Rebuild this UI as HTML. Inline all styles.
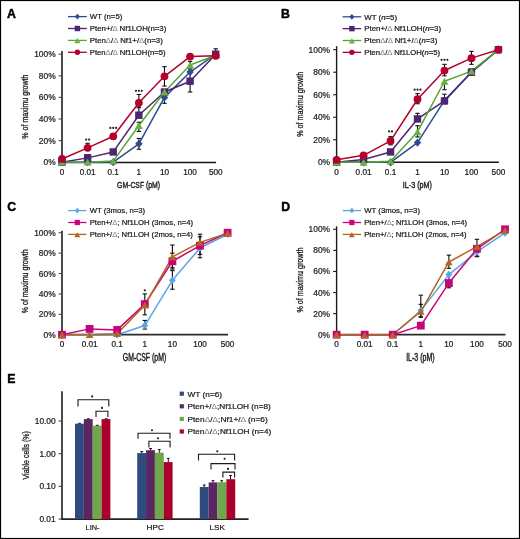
<!DOCTYPE html><html><head><meta charset="utf-8"><style>html,body{margin:0;padding:0;background:#fff;}svg{display:block;filter:blur(0.3px);} text{font-family:"Liberation Sans",sans-serif;}</style></head><body>
<svg width="520" height="539" viewBox="0 0 520 539">
<rect x="0" y="0" width="520" height="539" fill="#fff"/>
<text x="7.00" y="17.60" font-size="12.3" text-anchor="start" fill="#000" font-weight="bold" stroke="#000" stroke-width="0.45">A</text>
<text x="281.10" y="17.90" font-size="12.3" text-anchor="start" fill="#000" font-weight="bold" stroke="#000" stroke-width="0.45">B</text>
<text x="7.20" y="211.00" font-size="12.3" text-anchor="start" fill="#000" font-weight="bold" stroke="#000" stroke-width="0.45">C</text>
<text x="281.20" y="211.00" font-size="12.3" text-anchor="start" fill="#000" font-weight="bold" stroke="#000" stroke-width="0.45">D</text>
<text x="7.20" y="383.30" font-size="12.3" text-anchor="start" fill="#000" font-weight="bold" stroke="#000" stroke-width="0.45">E</text>
<line x1="62.00" y1="51.00" x2="62.00" y2="162.80" stroke="#4a4a4a" stroke-width="2.0" />
<line x1="61.20" y1="162.50" x2="216.12" y2="162.50" stroke="#151515" stroke-width="1.5" />
<line x1="58.60" y1="162.20" x2="62.00" y2="162.20" stroke="#4a4a4a" stroke-width="1.1" />
<text x="55.60" y="165.20" font-size="8.4" text-anchor="end" fill="#1a1a1a" stroke="#1a1a1a" stroke-width="0.22" >0%</text>
<line x1="58.60" y1="140.60" x2="62.00" y2="140.60" stroke="#4a4a4a" stroke-width="1.1" />
<text x="55.60" y="143.60" font-size="8.4" text-anchor="end" fill="#1a1a1a" stroke="#1a1a1a" stroke-width="0.22" >20%</text>
<line x1="58.60" y1="119.00" x2="62.00" y2="119.00" stroke="#4a4a4a" stroke-width="1.1" />
<text x="55.60" y="122.00" font-size="8.4" text-anchor="end" fill="#1a1a1a" stroke="#1a1a1a" stroke-width="0.22" >40%</text>
<line x1="58.60" y1="97.40" x2="62.00" y2="97.40" stroke="#4a4a4a" stroke-width="1.1" />
<text x="55.60" y="100.40" font-size="8.4" text-anchor="end" fill="#1a1a1a" stroke="#1a1a1a" stroke-width="0.22" >60%</text>
<line x1="58.60" y1="75.80" x2="62.00" y2="75.80" stroke="#4a4a4a" stroke-width="1.1" />
<text x="55.60" y="78.80" font-size="8.4" text-anchor="end" fill="#1a1a1a" stroke="#1a1a1a" stroke-width="0.22" >80%</text>
<line x1="58.60" y1="54.20" x2="62.00" y2="54.20" stroke="#4a4a4a" stroke-width="1.1" />
<text x="55.60" y="57.20" font-size="8.4" text-anchor="end" fill="#1a1a1a" stroke="#1a1a1a" stroke-width="0.22" >100%</text>
<text x="62.00" y="174.60" font-size="8.2" text-anchor="middle" fill="#1a1a1a" stroke="#1a1a1a" stroke-width="0.22" >0</text>
<text x="87.62" y="174.60" font-size="8.2" text-anchor="middle" fill="#1a1a1a" stroke="#1a1a1a" stroke-width="0.22" >0.01</text>
<text x="113.24" y="174.60" font-size="8.2" text-anchor="middle" fill="#1a1a1a" stroke="#1a1a1a" stroke-width="0.22" >0.1</text>
<text x="138.86" y="174.60" font-size="8.2" text-anchor="middle" fill="#1a1a1a" stroke="#1a1a1a" stroke-width="0.22" >1</text>
<text x="164.48" y="174.60" font-size="8.2" text-anchor="middle" fill="#1a1a1a" stroke="#1a1a1a" stroke-width="0.22" >10</text>
<text x="190.10" y="174.60" font-size="8.2" text-anchor="middle" fill="#1a1a1a" stroke="#1a1a1a" stroke-width="0.22" >100</text>
<text x="215.72" y="174.60" font-size="8.2" text-anchor="middle" fill="#1a1a1a" stroke="#1a1a1a" stroke-width="0.22" >500</text>
<text x="138.60" y="187.90" font-size="9.9" text-anchor="middle" fill="#1a1a1a" textLength="43.00" lengthAdjust="spacingAndGlyphs" stroke="#1a1a1a" stroke-width="0.42">GM-CSF (pM)</text>
<text x="28.10" y="106.60" font-size="9.0" text-anchor="middle" fill="#1a1a1a" textLength="64.20" lengthAdjust="spacingAndGlyphs" transform="rotate(-90 28.10 106.60)" stroke="#1a1a1a" stroke-width="0.3">% of maximu growth</text>
<polyline points="62.00,162.20 87.62,162.20 113.24,162.20 138.86,143.84 164.48,97.40 190.10,72.02 215.72,54.20" fill="none" stroke="#2b4c8e" stroke-width="1.5" stroke-linejoin="round"/>
<polyline points="62.00,162.20 87.62,157.88 113.24,151.94 138.86,115.22 164.48,92.00 190.10,81.20 215.72,54.20" fill="none" stroke="#4e2572" stroke-width="1.5" stroke-linejoin="round"/>
<polyline points="62.00,162.20 87.62,162.20 113.24,161.12 138.86,125.48 164.48,92.00 190.10,65.00 215.72,55.28" fill="none" stroke="#58a632" stroke-width="1.5" stroke-linejoin="round"/>
<polyline points="62.00,158.96 87.62,147.84 113.24,136.28 138.86,102.80 164.48,76.34 190.10,56.58 215.72,55.82" fill="none" stroke="#b3002c" stroke-width="1.5" stroke-linejoin="round"/>
<line x1="138.86" y1="149.24" x2="138.86" y2="138.44" stroke="#0a0a0a" stroke-width="1.1" />
<line x1="136.66" y1="138.44" x2="141.06" y2="138.44" stroke="#111" stroke-width="1.1" />
<line x1="136.66" y1="149.24" x2="141.06" y2="149.24" stroke="#111" stroke-width="1.1" />
<line x1="164.48" y1="103.34" x2="164.48" y2="97.40" stroke="#0a0a0a" stroke-width="1.1" />
<line x1="162.28" y1="103.34" x2="166.68" y2="103.34" stroke="#111" stroke-width="1.1" />
<line x1="87.62" y1="157.88" x2="87.62" y2="154.64" stroke="#0a0a0a" stroke-width="1.1" />
<line x1="85.42" y1="154.64" x2="89.82" y2="154.64" stroke="#111" stroke-width="1.1" />
<line x1="138.86" y1="115.22" x2="138.86" y2="107.66" stroke="#0a0a0a" stroke-width="1.1" />
<line x1="136.66" y1="107.66" x2="141.06" y2="107.66" stroke="#111" stroke-width="1.1" />
<line x1="190.10" y1="92.00" x2="190.10" y2="70.40" stroke="#0a0a0a" stroke-width="1.1" />
<line x1="187.90" y1="70.40" x2="192.30" y2="70.40" stroke="#111" stroke-width="1.1" />
<line x1="187.90" y1="92.00" x2="192.30" y2="92.00" stroke="#111" stroke-width="1.1" />
<line x1="138.86" y1="131.42" x2="138.86" y2="122.24" stroke="#0a0a0a" stroke-width="1.1" />
<line x1="136.66" y1="122.24" x2="141.06" y2="122.24" stroke="#111" stroke-width="1.1" />
<line x1="136.66" y1="131.42" x2="141.06" y2="131.42" stroke="#111" stroke-width="1.1" />
<line x1="190.10" y1="68.78" x2="190.10" y2="61.44" stroke="#0a0a0a" stroke-width="1.1" />
<line x1="187.90" y1="61.44" x2="192.30" y2="61.44" stroke="#111" stroke-width="1.1" />
<line x1="187.90" y1="68.78" x2="192.30" y2="68.78" stroke="#111" stroke-width="1.1" />
<line x1="87.62" y1="147.84" x2="87.62" y2="143.30" stroke="#0a0a0a" stroke-width="1.1" />
<line x1="85.42" y1="143.30" x2="89.82" y2="143.30" stroke="#111" stroke-width="1.1" />
<line x1="138.86" y1="107.12" x2="138.86" y2="94.48" stroke="#0a0a0a" stroke-width="1.1" />
<line x1="136.66" y1="94.48" x2="141.06" y2="94.48" stroke="#111" stroke-width="1.1" />
<line x1="136.66" y1="107.12" x2="141.06" y2="107.12" stroke="#111" stroke-width="1.1" />
<line x1="164.48" y1="86.06" x2="164.48" y2="66.62" stroke="#0a0a0a" stroke-width="1.1" />
<line x1="162.28" y1="66.62" x2="166.68" y2="66.62" stroke="#111" stroke-width="1.1" />
<line x1="162.28" y1="86.06" x2="166.68" y2="86.06" stroke="#111" stroke-width="1.1" />
<line x1="215.72" y1="55.82" x2="215.72" y2="48.80" stroke="#0a0a0a" stroke-width="1.1" />
<line x1="213.52" y1="48.80" x2="217.92" y2="48.80" stroke="#111" stroke-width="1.1" />
<path d="M62.00 158.10 L65.70 162.20 L62.00 166.29 L58.30 162.20Z" fill="#2b4c8e"/>
<path d="M87.62 158.10 L91.33 162.20 L87.62 166.29 L83.92 162.20Z" fill="#2b4c8e"/>
<path d="M113.24 158.10 L116.95 162.20 L113.24 166.29 L109.54 162.20Z" fill="#2b4c8e"/>
<path d="M138.86 139.74 L142.57 143.84 L138.86 147.93 L135.16 143.84Z" fill="#2b4c8e"/>
<path d="M164.48 93.30 L168.19 97.40 L164.48 101.49 L160.78 97.40Z" fill="#2b4c8e"/>
<path d="M190.10 67.93 L193.81 72.02 L190.10 76.12 L186.39 72.02Z" fill="#2b4c8e"/>
<path d="M215.72 50.11 L219.43 54.20 L215.72 58.30 L212.01 54.20Z" fill="#2b4c8e"/>
<rect x="58.30" y="158.50" width="7.40" height="7.40" fill="#4e2572"/>
<rect x="83.92" y="154.18" width="7.40" height="7.40" fill="#4e2572"/>
<rect x="109.54" y="148.24" width="7.40" height="7.40" fill="#4e2572"/>
<rect x="135.16" y="111.52" width="7.40" height="7.40" fill="#4e2572"/>
<rect x="160.78" y="88.30" width="7.40" height="7.40" fill="#4e2572"/>
<rect x="186.40" y="77.50" width="7.40" height="7.40" fill="#4e2572"/>
<rect x="212.02" y="50.50" width="7.40" height="7.40" fill="#4e2572"/>
<path d="M62.00 158.80 L66.00 165.60 L58.00 165.60Z" fill="#6ab23f"/>
<path d="M87.62 158.80 L91.62 165.60 L83.62 165.60Z" fill="#6ab23f"/>
<path d="M113.24 157.72 L117.24 164.52 L109.24 164.52Z" fill="#6ab23f"/>
<path d="M138.86 122.08 L142.86 128.88 L134.86 128.88Z" fill="#6ab23f"/>
<path d="M164.48 88.60 L168.48 95.40 L160.48 95.40Z" fill="#6ab23f"/>
<path d="M190.10 61.60 L194.10 68.40 L186.10 68.40Z" fill="#6ab23f"/>
<path d="M215.72 51.88 L219.72 58.68 L211.72 58.68Z" fill="#6ab23f"/>
<circle cx="62.00" cy="158.96" r="3.90" fill="#b3002c"/>
<circle cx="87.62" cy="147.84" r="3.90" fill="#b3002c"/>
<circle cx="113.24" cy="136.28" r="3.90" fill="#b3002c"/>
<circle cx="138.86" cy="102.80" r="3.90" fill="#b3002c"/>
<circle cx="164.48" cy="76.34" r="3.90" fill="#b3002c"/>
<circle cx="190.10" cy="56.58" r="3.90" fill="#b3002c"/>
<circle cx="215.72" cy="55.82" r="3.90" fill="#b3002c"/>
<circle cx="86.17" cy="139.60" r="1.1" fill="#222"/>
<circle cx="89.07" cy="139.60" r="1.1" fill="#222"/>
<circle cx="110.34" cy="127.90" r="1.1" fill="#222"/>
<circle cx="113.24" cy="127.90" r="1.1" fill="#222"/>
<circle cx="116.14" cy="127.90" r="1.1" fill="#222"/>
<circle cx="135.96" cy="90.80" r="1.1" fill="#222"/>
<circle cx="138.86" cy="90.80" r="1.1" fill="#222"/>
<circle cx="141.76" cy="90.80" r="1.1" fill="#222"/>
<line x1="68.00" y1="16.60" x2="86.80" y2="16.60" stroke="#2b4c8e" stroke-width="1.3" />
<path d="M77.40 13.77 L79.97 16.60 L77.40 19.44 L74.84 16.60Z" fill="#2b4c8e"/>
<text x="89.80" y="19.30" font-size="7.6" text-anchor="start" fill="#1a1a1a" textLength="32.50" lengthAdjust="spacingAndGlyphs" stroke="#1a1a1a" stroke-width="0.22" >WT (n=5)</text>
<line x1="68.00" y1="28.50" x2="86.80" y2="28.50" stroke="#4e2572" stroke-width="1.3" />
<rect x="74.70" y="25.80" width="5.40" height="5.40" fill="#4e2572"/>
<text x="89.80" y="31.20" font-size="7.6" text-anchor="start" fill="#1a1a1a" textLength="76.50" lengthAdjust="spacingAndGlyphs" stroke="#1a1a1a" stroke-width="0.22" >Pten+/<tspan fill="#7a7a7a" stroke="none">&#916;</tspan> Nf1LOH(n=3)</text>
<line x1="68.00" y1="40.40" x2="86.80" y2="40.40" stroke="#58a632" stroke-width="1.3" />
<path d="M77.40 38.06 L80.51 43.34 L74.30 43.34Z" fill="#6ab23f"/>
<text x="89.80" y="43.10" font-size="7.6" text-anchor="start" fill="#1a1a1a" textLength="73.00" lengthAdjust="spacingAndGlyphs" stroke="#1a1a1a" stroke-width="0.22" >Pten<tspan fill="#7a7a7a" stroke="none">&#916;</tspan>/<tspan fill="#7a7a7a" stroke="none">&#916;</tspan> Nf1+/<tspan fill="#7a7a7a" stroke="none">&#916;</tspan>(n=3)</text>
<line x1="68.00" y1="52.30" x2="86.80" y2="52.30" stroke="#b3002c" stroke-width="1.3" />
<circle cx="77.40" cy="52.30" r="2.70" fill="#b3002c"/>
<text x="89.80" y="55.00" font-size="7.6" text-anchor="start" fill="#1a1a1a" textLength="75.70" lengthAdjust="spacingAndGlyphs" stroke="#1a1a1a" stroke-width="0.22" >Pten<tspan fill="#7a7a7a" stroke="none">&#916;</tspan>/<tspan fill="#7a7a7a" stroke="none">&#916;</tspan> Nf1LOH(n=5)</text>
<line x1="336.60" y1="46.20" x2="336.60" y2="162.90" stroke="#1a1a1a" stroke-width="1.4" />
<line x1="335.80" y1="162.30" x2="498.82" y2="162.30" stroke="#151515" stroke-width="1.5" />
<line x1="333.20" y1="162.30" x2="336.60" y2="162.30" stroke="#1a1a1a" stroke-width="1.1" />
<text x="330.00" y="165.30" font-size="8.4" text-anchor="end" fill="#1a1a1a" stroke="#1a1a1a" stroke-width="0.22" >0%</text>
<line x1="333.20" y1="139.78" x2="336.60" y2="139.78" stroke="#1a1a1a" stroke-width="1.1" />
<text x="330.00" y="142.78" font-size="8.4" text-anchor="end" fill="#1a1a1a" stroke="#1a1a1a" stroke-width="0.22" >20%</text>
<line x1="333.20" y1="117.26" x2="336.60" y2="117.26" stroke="#1a1a1a" stroke-width="1.1" />
<text x="330.00" y="120.26" font-size="8.4" text-anchor="end" fill="#1a1a1a" stroke="#1a1a1a" stroke-width="0.22" >40%</text>
<line x1="333.20" y1="94.74" x2="336.60" y2="94.74" stroke="#1a1a1a" stroke-width="1.1" />
<text x="330.00" y="97.74" font-size="8.4" text-anchor="end" fill="#1a1a1a" stroke="#1a1a1a" stroke-width="0.22" >60%</text>
<line x1="333.20" y1="72.22" x2="336.60" y2="72.22" stroke="#1a1a1a" stroke-width="1.1" />
<text x="330.00" y="75.22" font-size="8.4" text-anchor="end" fill="#1a1a1a" stroke="#1a1a1a" stroke-width="0.22" >80%</text>
<line x1="333.20" y1="49.70" x2="336.60" y2="49.70" stroke="#1a1a1a" stroke-width="1.1" />
<text x="330.00" y="52.70" font-size="8.4" text-anchor="end" fill="#1a1a1a" stroke="#1a1a1a" stroke-width="0.22" >100%</text>
<text x="336.60" y="174.60" font-size="8.2" text-anchor="middle" fill="#1a1a1a" stroke="#1a1a1a" stroke-width="0.22" >0</text>
<text x="363.57" y="174.60" font-size="8.2" text-anchor="middle" fill="#1a1a1a" stroke="#1a1a1a" stroke-width="0.22" >0.01</text>
<text x="390.54" y="174.60" font-size="8.2" text-anchor="middle" fill="#1a1a1a" stroke="#1a1a1a" stroke-width="0.22" >0.1</text>
<text x="417.51" y="174.60" font-size="8.2" text-anchor="middle" fill="#1a1a1a" stroke="#1a1a1a" stroke-width="0.22" >1</text>
<text x="444.48" y="174.60" font-size="8.2" text-anchor="middle" fill="#1a1a1a" stroke="#1a1a1a" stroke-width="0.22" >10</text>
<text x="471.45" y="174.60" font-size="8.2" text-anchor="middle" fill="#1a1a1a" stroke="#1a1a1a" stroke-width="0.22" >100</text>
<text x="498.42" y="174.60" font-size="8.2" text-anchor="middle" fill="#1a1a1a" stroke="#1a1a1a" stroke-width="0.22" >500</text>
<text x="417.40" y="187.90" font-size="9.9" text-anchor="middle" fill="#1a1a1a" textLength="29.10" lengthAdjust="spacingAndGlyphs" stroke="#1a1a1a" stroke-width="0.42">IL-3 (pM)</text>
<text x="302.60" y="104.30" font-size="9.0" text-anchor="middle" fill="#1a1a1a" textLength="65.00" lengthAdjust="spacingAndGlyphs" transform="rotate(-90 302.60 104.30)" stroke="#1a1a1a" stroke-width="0.3">% of maximu growth</text>
<polyline points="336.60,162.30 363.57,162.30 390.54,162.30 417.51,142.59 444.48,100.37 471.45,72.22 498.42,49.70" fill="none" stroke="#2b4c8e" stroke-width="1.5" stroke-linejoin="round"/>
<polyline points="336.60,162.30 363.57,159.49 390.54,151.94 417.51,118.95 444.48,100.93 471.45,72.22 498.42,49.70" fill="none" stroke="#4e2572" stroke-width="1.5" stroke-linejoin="round"/>
<polyline points="336.60,162.30 363.57,162.30 390.54,161.17 417.51,131.90 444.48,81.23 471.45,71.09 498.42,49.70" fill="none" stroke="#58a632" stroke-width="1.5" stroke-linejoin="round"/>
<polyline points="336.60,159.82 363.57,155.32 390.54,140.91 417.51,99.24 444.48,70.53 471.45,58.15 498.42,49.70" fill="none" stroke="#b3002c" stroke-width="1.5" stroke-linejoin="round"/>
<line x1="444.48" y1="103.75" x2="444.48" y2="100.37" stroke="#0a0a0a" stroke-width="1.1" />
<line x1="442.28" y1="103.75" x2="446.68" y2="103.75" stroke="#111" stroke-width="1.1" />
<line x1="417.51" y1="118.95" x2="417.51" y2="113.32" stroke="#0a0a0a" stroke-width="1.1" />
<line x1="415.31" y1="113.32" x2="419.71" y2="113.32" stroke="#111" stroke-width="1.1" />
<line x1="444.48" y1="100.93" x2="444.48" y2="94.18" stroke="#0a0a0a" stroke-width="1.1" />
<line x1="442.28" y1="94.18" x2="446.68" y2="94.18" stroke="#111" stroke-width="1.1" />
<line x1="471.45" y1="72.22" x2="471.45" y2="68.84" stroke="#0a0a0a" stroke-width="1.1" />
<line x1="469.25" y1="68.84" x2="473.65" y2="68.84" stroke="#111" stroke-width="1.1" />
<line x1="417.51" y1="136.97" x2="417.51" y2="125.71" stroke="#0a0a0a" stroke-width="1.1" />
<line x1="415.31" y1="125.71" x2="419.71" y2="125.71" stroke="#111" stroke-width="1.1" />
<line x1="415.31" y1="136.97" x2="419.71" y2="136.97" stroke="#111" stroke-width="1.1" />
<line x1="444.48" y1="89.67" x2="444.48" y2="81.23" stroke="#0a0a0a" stroke-width="1.1" />
<line x1="442.28" y1="89.67" x2="446.68" y2="89.67" stroke="#111" stroke-width="1.1" />
<line x1="390.54" y1="144.85" x2="390.54" y2="136.63" stroke="#0a0a0a" stroke-width="1.1" />
<line x1="388.34" y1="136.63" x2="392.74" y2="136.63" stroke="#111" stroke-width="1.1" />
<line x1="388.34" y1="144.85" x2="392.74" y2="144.85" stroke="#111" stroke-width="1.1" />
<line x1="417.51" y1="103.75" x2="417.51" y2="93.61" stroke="#0a0a0a" stroke-width="1.1" />
<line x1="415.31" y1="93.61" x2="419.71" y2="93.61" stroke="#111" stroke-width="1.1" />
<line x1="415.31" y1="103.75" x2="419.71" y2="103.75" stroke="#111" stroke-width="1.1" />
<line x1="444.48" y1="75.82" x2="444.48" y2="64.34" stroke="#0a0a0a" stroke-width="1.1" />
<line x1="442.28" y1="64.34" x2="446.68" y2="64.34" stroke="#111" stroke-width="1.1" />
<line x1="442.28" y1="75.82" x2="446.68" y2="75.82" stroke="#111" stroke-width="1.1" />
<line x1="471.45" y1="64.34" x2="471.45" y2="51.39" stroke="#0a0a0a" stroke-width="1.1" />
<line x1="469.25" y1="51.39" x2="473.65" y2="51.39" stroke="#111" stroke-width="1.1" />
<line x1="469.25" y1="64.34" x2="473.65" y2="64.34" stroke="#111" stroke-width="1.1" />
<path d="M336.60 158.21 L340.31 162.30 L336.60 166.40 L332.90 162.30Z" fill="#2b4c8e"/>
<path d="M363.57 158.21 L367.28 162.30 L363.57 166.40 L359.87 162.30Z" fill="#2b4c8e"/>
<path d="M390.54 158.21 L394.25 162.30 L390.54 166.40 L386.84 162.30Z" fill="#2b4c8e"/>
<path d="M417.51 138.50 L421.21 142.59 L417.51 146.69 L413.81 142.59Z" fill="#2b4c8e"/>
<path d="M444.48 96.28 L448.19 100.37 L444.48 104.47 L440.78 100.37Z" fill="#2b4c8e"/>
<path d="M471.45 68.13 L475.16 72.22 L471.45 76.32 L467.75 72.22Z" fill="#2b4c8e"/>
<path d="M498.42 45.61 L502.12 49.70 L498.42 53.80 L494.72 49.70Z" fill="#2b4c8e"/>
<rect x="332.90" y="158.60" width="7.40" height="7.40" fill="#4e2572"/>
<rect x="359.87" y="155.79" width="7.40" height="7.40" fill="#4e2572"/>
<rect x="386.84" y="148.24" width="7.40" height="7.40" fill="#4e2572"/>
<rect x="413.81" y="115.25" width="7.40" height="7.40" fill="#4e2572"/>
<rect x="440.78" y="97.23" width="7.40" height="7.40" fill="#4e2572"/>
<rect x="467.75" y="68.52" width="7.40" height="7.40" fill="#4e2572"/>
<rect x="494.72" y="46.00" width="7.40" height="7.40" fill="#4e2572"/>
<path d="M336.60 158.90 L340.60 165.70 L332.60 165.70Z" fill="#6ab23f"/>
<path d="M363.57 158.90 L367.57 165.70 L359.57 165.70Z" fill="#6ab23f"/>
<path d="M390.54 157.77 L394.54 164.57 L386.54 164.57Z" fill="#6ab23f"/>
<path d="M417.51 128.50 L421.51 135.30 L413.51 135.30Z" fill="#6ab23f"/>
<path d="M444.48 77.83 L448.48 84.63 L440.48 84.63Z" fill="#6ab23f"/>
<path d="M471.45 67.69 L475.45 74.49 L467.45 74.49Z" fill="#6ab23f"/>
<path d="M498.42 46.30 L502.42 53.10 L494.42 53.10Z" fill="#6ab23f"/>
<circle cx="336.60" cy="159.82" r="3.90" fill="#b3002c"/>
<circle cx="363.57" cy="155.32" r="3.90" fill="#b3002c"/>
<circle cx="390.54" cy="140.91" r="3.90" fill="#b3002c"/>
<circle cx="417.51" cy="99.24" r="3.90" fill="#b3002c"/>
<circle cx="444.48" cy="70.53" r="3.90" fill="#b3002c"/>
<circle cx="471.45" cy="58.15" r="3.90" fill="#b3002c"/>
<circle cx="498.42" cy="49.70" r="3.90" fill="#b3002c"/>
<circle cx="389.09" cy="131.40" r="1.1" fill="#222"/>
<circle cx="391.99" cy="131.40" r="1.1" fill="#222"/>
<circle cx="414.61" cy="89.70" r="1.1" fill="#222"/>
<circle cx="417.51" cy="89.70" r="1.1" fill="#222"/>
<circle cx="420.41" cy="89.70" r="1.1" fill="#222"/>
<circle cx="441.58" cy="59.80" r="1.1" fill="#222"/>
<circle cx="444.48" cy="59.80" r="1.1" fill="#222"/>
<circle cx="447.38" cy="59.80" r="1.1" fill="#222"/>
<line x1="342.60" y1="16.80" x2="361.20" y2="16.80" stroke="#2b4c8e" stroke-width="1.3" />
<path d="M351.90 13.96 L354.46 16.80 L351.90 19.64 L349.33 16.80Z" fill="#2b4c8e"/>
<text x="364.30" y="19.50" font-size="7.6" text-anchor="start" fill="#1a1a1a" textLength="32.80" lengthAdjust="spacingAndGlyphs" stroke="#1a1a1a" stroke-width="0.22" >WT (<tspan font-style="italic">n</tspan>=5)</text>
<line x1="342.60" y1="28.65" x2="361.20" y2="28.65" stroke="#4e2572" stroke-width="1.3" />
<rect x="349.20" y="25.95" width="5.40" height="5.40" fill="#4e2572"/>
<text x="364.30" y="31.35" font-size="7.6" text-anchor="start" fill="#1a1a1a" textLength="76.80" lengthAdjust="spacingAndGlyphs" stroke="#1a1a1a" stroke-width="0.22" >Pten+/<tspan fill="#7a7a7a" stroke="none">&#916;</tspan> Nf1LOH(<tspan font-style="italic">n</tspan>=3)</text>
<line x1="342.60" y1="40.50" x2="361.20" y2="40.50" stroke="#58a632" stroke-width="1.3" />
<path d="M351.90 38.16 L355.00 43.44 L348.79 43.44Z" fill="#6ab23f"/>
<text x="364.30" y="43.20" font-size="7.6" text-anchor="start" fill="#1a1a1a" textLength="73.00" lengthAdjust="spacingAndGlyphs" stroke="#1a1a1a" stroke-width="0.22" >Pten<tspan fill="#7a7a7a" stroke="none">&#916;</tspan>/<tspan fill="#7a7a7a" stroke="none">&#916;</tspan> Nf1+/<tspan fill="#7a7a7a" stroke="none">&#916;</tspan>(<tspan font-style="italic">n</tspan>=3)</text>
<line x1="342.60" y1="52.35" x2="361.20" y2="52.35" stroke="#b3002c" stroke-width="1.3" />
<circle cx="351.90" cy="52.35" r="2.70" fill="#b3002c"/>
<text x="364.30" y="55.05" font-size="7.6" text-anchor="start" fill="#1a1a1a" textLength="75.70" lengthAdjust="spacingAndGlyphs" stroke="#1a1a1a" stroke-width="0.22" >Pten<tspan fill="#7a7a7a" stroke="none">&#916;</tspan>/<tspan fill="#7a7a7a" stroke="none">&#916;</tspan> Nf1LOH(<tspan font-style="italic">n</tspan>=5)</text>
<line x1="62.00" y1="230.80" x2="62.00" y2="335.30" stroke="#4a4a4a" stroke-width="2.0" />
<line x1="61.20" y1="334.70" x2="228.00" y2="334.70" stroke="#2a2a2a" stroke-width="1.7" />
<line x1="58.60" y1="334.70" x2="62.00" y2="334.70" stroke="#4a4a4a" stroke-width="1.1" />
<text x="55.60" y="337.70" font-size="8.4" text-anchor="end" fill="#1a1a1a" stroke="#1a1a1a" stroke-width="0.22" >0%</text>
<line x1="58.60" y1="314.30" x2="62.00" y2="314.30" stroke="#4a4a4a" stroke-width="1.1" />
<text x="55.60" y="317.30" font-size="8.4" text-anchor="end" fill="#1a1a1a" stroke="#1a1a1a" stroke-width="0.22" >20%</text>
<line x1="58.60" y1="293.90" x2="62.00" y2="293.90" stroke="#4a4a4a" stroke-width="1.1" />
<text x="55.60" y="296.90" font-size="8.4" text-anchor="end" fill="#1a1a1a" stroke="#1a1a1a" stroke-width="0.22" >40%</text>
<line x1="58.60" y1="273.50" x2="62.00" y2="273.50" stroke="#4a4a4a" stroke-width="1.1" />
<text x="55.60" y="276.50" font-size="8.4" text-anchor="end" fill="#1a1a1a" stroke="#1a1a1a" stroke-width="0.22" >60%</text>
<line x1="58.60" y1="253.10" x2="62.00" y2="253.10" stroke="#4a4a4a" stroke-width="1.1" />
<text x="55.60" y="256.10" font-size="8.4" text-anchor="end" fill="#1a1a1a" stroke="#1a1a1a" stroke-width="0.22" >80%</text>
<line x1="58.60" y1="232.70" x2="62.00" y2="232.70" stroke="#4a4a4a" stroke-width="1.1" />
<text x="55.60" y="235.70" font-size="8.4" text-anchor="end" fill="#1a1a1a" stroke="#1a1a1a" stroke-width="0.22" >100%</text>
<text x="62.00" y="346.60" font-size="8.2" text-anchor="middle" fill="#1a1a1a" stroke="#1a1a1a" stroke-width="0.22" >0</text>
<text x="89.60" y="346.60" font-size="8.2" text-anchor="middle" fill="#1a1a1a" stroke="#1a1a1a" stroke-width="0.22" >0.01</text>
<text x="117.20" y="346.60" font-size="8.2" text-anchor="middle" fill="#1a1a1a" stroke="#1a1a1a" stroke-width="0.22" >0.1</text>
<text x="144.80" y="346.60" font-size="8.2" text-anchor="middle" fill="#1a1a1a" stroke="#1a1a1a" stroke-width="0.22" >1</text>
<text x="172.40" y="346.60" font-size="8.2" text-anchor="middle" fill="#1a1a1a" stroke="#1a1a1a" stroke-width="0.22" >10</text>
<text x="200.00" y="346.60" font-size="8.2" text-anchor="middle" fill="#1a1a1a" stroke="#1a1a1a" stroke-width="0.22" >100</text>
<text x="227.60" y="346.60" font-size="8.2" text-anchor="middle" fill="#1a1a1a" stroke="#1a1a1a" stroke-width="0.22" >500</text>
<text x="144.50" y="360.70" font-size="10.3" text-anchor="middle" fill="#1a1a1a" textLength="43.40" lengthAdjust="spacingAndGlyphs" stroke="#1a1a1a" stroke-width="0.42">GM-CSF (pM)</text>
<text x="28.10" y="281.30" font-size="9.0" text-anchor="middle" fill="#1a1a1a" textLength="63.80" lengthAdjust="spacingAndGlyphs" transform="rotate(-90 28.10 281.30)" stroke="#1a1a1a" stroke-width="0.3">% of maximu growth</text>
<polyline points="62.00,334.70 89.60,334.70 117.20,334.70 144.80,325.52 172.40,280.33 200.00,248.00 227.60,234.23" fill="none" stroke="#5aa6e4" stroke-width="1.5" stroke-linejoin="round"/>
<polyline points="62.00,334.70 89.60,328.89 117.20,329.91 144.80,304.10 172.40,261.26 200.00,245.65 227.60,232.70" fill="none" stroke="#c9037c" stroke-width="1.5" stroke-linejoin="round"/>
<polyline points="62.00,334.70 89.60,334.70 117.20,333.68 144.80,305.12 172.40,256.87 200.00,242.39 227.60,233.21" fill="none" stroke="#b2661e" stroke-width="1.5" stroke-linejoin="round"/>
<line x1="144.80" y1="329.09" x2="144.80" y2="320.42" stroke="#0a0a0a" stroke-width="1.1" />
<line x1="142.60" y1="320.42" x2="147.00" y2="320.42" stroke="#111" stroke-width="1.1" />
<line x1="142.60" y1="329.09" x2="147.00" y2="329.09" stroke="#111" stroke-width="1.1" />
<line x1="172.40" y1="289.21" x2="172.40" y2="270.64" stroke="#0a0a0a" stroke-width="1.1" />
<line x1="170.20" y1="270.64" x2="174.60" y2="270.64" stroke="#111" stroke-width="1.1" />
<line x1="170.20" y1="289.21" x2="174.60" y2="289.21" stroke="#111" stroke-width="1.1" />
<line x1="200.00" y1="254.43" x2="200.00" y2="242.90" stroke="#0a0a0a" stroke-width="1.1" />
<line x1="197.80" y1="242.90" x2="202.20" y2="242.90" stroke="#111" stroke-width="1.1" />
<line x1="197.80" y1="254.43" x2="202.20" y2="254.43" stroke="#111" stroke-width="1.1" />
<line x1="172.40" y1="267.69" x2="172.40" y2="253.20" stroke="#0a0a0a" stroke-width="1.1" />
<line x1="170.20" y1="253.20" x2="174.60" y2="253.20" stroke="#111" stroke-width="1.1" />
<line x1="170.20" y1="267.69" x2="174.60" y2="267.69" stroke="#111" stroke-width="1.1" />
<line x1="200.00" y1="257.79" x2="200.00" y2="234.23" stroke="#0a0a0a" stroke-width="1.1" />
<line x1="197.80" y1="234.23" x2="202.20" y2="234.23" stroke="#111" stroke-width="1.1" />
<line x1="197.80" y1="257.79" x2="202.20" y2="257.79" stroke="#111" stroke-width="1.1" />
<line x1="144.80" y1="314.81" x2="144.80" y2="293.90" stroke="#0a0a0a" stroke-width="1.1" />
<line x1="142.60" y1="293.90" x2="147.00" y2="293.90" stroke="#111" stroke-width="1.1" />
<line x1="142.60" y1="314.81" x2="147.00" y2="314.81" stroke="#111" stroke-width="1.1" />
<line x1="172.40" y1="269.11" x2="172.40" y2="245.04" stroke="#0a0a0a" stroke-width="1.1" />
<line x1="170.20" y1="245.04" x2="174.60" y2="245.04" stroke="#111" stroke-width="1.1" />
<line x1="170.20" y1="269.11" x2="174.60" y2="269.11" stroke="#111" stroke-width="1.1" />
<line x1="200.00" y1="249.02" x2="200.00" y2="236.78" stroke="#0a0a0a" stroke-width="1.1" />
<line x1="197.80" y1="236.78" x2="202.20" y2="236.78" stroke="#111" stroke-width="1.1" />
<line x1="197.80" y1="249.02" x2="202.20" y2="249.02" stroke="#111" stroke-width="1.1" />
<path d="M62.00 330.92 L65.42 334.70 L62.00 338.48 L58.58 334.70Z" fill="#5aa6e4"/>
<path d="M89.60 330.92 L93.02 334.70 L89.60 338.48 L86.18 334.70Z" fill="#5aa6e4"/>
<path d="M117.20 330.92 L120.62 334.70 L117.20 338.48 L113.78 334.70Z" fill="#5aa6e4"/>
<path d="M144.80 321.74 L148.22 325.52 L144.80 329.30 L141.38 325.52Z" fill="#5aa6e4"/>
<path d="M172.40 276.55 L175.82 280.33 L172.40 284.11 L168.98 280.33Z" fill="#5aa6e4"/>
<path d="M200.00 244.22 L203.42 248.00 L200.00 251.78 L196.58 248.00Z" fill="#5aa6e4"/>
<path d="M227.60 230.45 L231.02 234.23 L227.60 238.01 L224.18 234.23Z" fill="#5aa6e4"/>
<rect x="58.10" y="330.80" width="7.80" height="7.80" fill="#c9037c"/>
<rect x="85.70" y="324.99" width="7.80" height="7.80" fill="#c9037c"/>
<rect x="113.30" y="326.01" width="7.80" height="7.80" fill="#c9037c"/>
<rect x="140.90" y="300.20" width="7.80" height="7.80" fill="#c9037c"/>
<rect x="168.50" y="257.36" width="7.80" height="7.80" fill="#c9037c"/>
<rect x="196.10" y="241.75" width="7.80" height="7.80" fill="#c9037c"/>
<rect x="223.70" y="228.80" width="7.80" height="7.80" fill="#c9037c"/>
<path d="M62.00 331.38 L65.90 338.01 L58.10 338.01Z" fill="#b2661e"/>
<path d="M89.60 331.38 L93.50 338.01 L85.70 338.01Z" fill="#b2661e"/>
<path d="M117.20 330.37 L121.10 337.00 L113.30 337.00Z" fill="#b2661e"/>
<path d="M144.80 301.81 L148.70 308.44 L140.90 308.44Z" fill="#b2661e"/>
<path d="M172.40 253.56 L176.30 260.19 L168.50 260.19Z" fill="#b2661e"/>
<path d="M200.00 239.07 L203.90 245.70 L196.10 245.70Z" fill="#b2661e"/>
<path d="M227.60 229.89 L231.50 236.52 L223.70 236.52Z" fill="#b2661e"/>
<circle cx="144.80" cy="290.30" r="1.1" fill="#222"/>
<line x1="68.20" y1="210.60" x2="86.40" y2="210.60" stroke="#5aa6e4" stroke-width="1.3" />
<path d="M77.30 207.87 L79.77 210.60 L77.30 213.33 L74.83 210.60Z" fill="#5aa6e4"/>
<text x="89.70" y="213.30" font-size="7.6" text-anchor="start" fill="#1a1a1a" textLength="55.40" lengthAdjust="spacingAndGlyphs" stroke="#1a1a1a" stroke-width="0.22" >WT (3mos, n=3)</text>
<line x1="68.20" y1="222.50" x2="86.40" y2="222.50" stroke="#c9037c" stroke-width="1.3" />
<rect x="74.70" y="219.90" width="5.20" height="5.20" fill="#c9037c"/>
<text x="89.70" y="225.20" font-size="7.6" text-anchor="start" fill="#1a1a1a" textLength="103.50" lengthAdjust="spacingAndGlyphs" stroke="#1a1a1a" stroke-width="0.22" >Pten+/<tspan fill="#7a7a7a" stroke="none">&#916;</tspan>; Nf1LOH (3mos, n=4)</text>
<line x1="68.20" y1="234.40" x2="86.40" y2="234.40" stroke="#b2661e" stroke-width="1.3" />
<path d="M77.30 232.16 L80.29 237.24 L74.31 237.24Z" fill="#b2661e"/>
<text x="89.70" y="237.10" font-size="7.6" text-anchor="start" fill="#1a1a1a" textLength="103.20" lengthAdjust="spacingAndGlyphs" stroke="#1a1a1a" stroke-width="0.22" >Pten+/<tspan fill="#7a7a7a" stroke="none">&#916;</tspan>; Nf1LOH (2mos, n=4)</text>
<line x1="336.60" y1="226.30" x2="336.60" y2="335.30" stroke="#1a1a1a" stroke-width="1.4" />
<line x1="335.80" y1="334.70" x2="505.42" y2="334.70" stroke="#2a2a2a" stroke-width="1.7" />
<line x1="333.20" y1="334.70" x2="336.60" y2="334.70" stroke="#1a1a1a" stroke-width="1.1" />
<text x="330.00" y="337.70" font-size="8.4" text-anchor="end" fill="#1a1a1a" stroke="#1a1a1a" stroke-width="0.22" >0%</text>
<line x1="333.20" y1="313.62" x2="336.60" y2="313.62" stroke="#1a1a1a" stroke-width="1.1" />
<text x="330.00" y="316.62" font-size="8.4" text-anchor="end" fill="#1a1a1a" stroke="#1a1a1a" stroke-width="0.22" >20%</text>
<line x1="333.20" y1="292.54" x2="336.60" y2="292.54" stroke="#1a1a1a" stroke-width="1.1" />
<text x="330.00" y="295.54" font-size="8.4" text-anchor="end" fill="#1a1a1a" stroke="#1a1a1a" stroke-width="0.22" >40%</text>
<line x1="333.20" y1="271.46" x2="336.60" y2="271.46" stroke="#1a1a1a" stroke-width="1.1" />
<text x="330.00" y="274.46" font-size="8.4" text-anchor="end" fill="#1a1a1a" stroke="#1a1a1a" stroke-width="0.22" >60%</text>
<line x1="333.20" y1="250.38" x2="336.60" y2="250.38" stroke="#1a1a1a" stroke-width="1.1" />
<text x="330.00" y="253.38" font-size="8.4" text-anchor="end" fill="#1a1a1a" stroke="#1a1a1a" stroke-width="0.22" >80%</text>
<line x1="333.20" y1="229.30" x2="336.60" y2="229.30" stroke="#1a1a1a" stroke-width="1.1" />
<text x="330.00" y="232.30" font-size="8.4" text-anchor="end" fill="#1a1a1a" stroke="#1a1a1a" stroke-width="0.22" >100%</text>
<text x="336.60" y="346.80" font-size="8.2" text-anchor="middle" fill="#1a1a1a" stroke="#1a1a1a" stroke-width="0.22" >0</text>
<text x="364.67" y="346.80" font-size="8.2" text-anchor="middle" fill="#1a1a1a" stroke="#1a1a1a" stroke-width="0.22" >0.01</text>
<text x="392.74" y="346.80" font-size="8.2" text-anchor="middle" fill="#1a1a1a" stroke="#1a1a1a" stroke-width="0.22" >0.1</text>
<text x="420.81" y="346.80" font-size="8.2" text-anchor="middle" fill="#1a1a1a" stroke="#1a1a1a" stroke-width="0.22" >1</text>
<text x="448.88" y="346.80" font-size="8.2" text-anchor="middle" fill="#1a1a1a" stroke="#1a1a1a" stroke-width="0.22" >10</text>
<text x="476.95" y="346.80" font-size="8.2" text-anchor="middle" fill="#1a1a1a" stroke="#1a1a1a" stroke-width="0.22" >100</text>
<text x="505.02" y="346.80" font-size="8.2" text-anchor="middle" fill="#1a1a1a" stroke="#1a1a1a" stroke-width="0.22" >500</text>
<text x="420.40" y="360.50" font-size="10.3" text-anchor="middle" fill="#1a1a1a" textLength="28.50" lengthAdjust="spacingAndGlyphs" stroke="#1a1a1a" stroke-width="0.42">IL-3 (pM)</text>
<text x="302.60" y="280.00" font-size="9.0" text-anchor="middle" fill="#1a1a1a" textLength="65.00" lengthAdjust="spacingAndGlyphs" transform="rotate(-90 302.60 280.00)" stroke="#1a1a1a" stroke-width="0.3">% of maximu growth</text>
<polyline points="336.60,334.70 364.67,334.70 392.74,334.70 420.81,310.46 448.88,274.62 476.95,251.96 505.02,232.99" fill="none" stroke="#5aa6e4" stroke-width="1.5" stroke-linejoin="round"/>
<polyline points="336.60,334.70 364.67,334.70 392.74,334.70 420.81,325.64 448.88,283.05 476.95,248.80 505.02,229.30" fill="none" stroke="#c9037c" stroke-width="1.5" stroke-linejoin="round"/>
<polyline points="336.60,334.70 364.67,334.70 392.74,334.70 420.81,311.51 448.88,261.97 476.95,246.69 505.02,230.35" fill="none" stroke="#b2661e" stroke-width="1.5" stroke-linejoin="round"/>
<line x1="420.81" y1="316.78" x2="420.81" y2="304.34" stroke="#0a0a0a" stroke-width="1.1" />
<line x1="418.61" y1="304.34" x2="423.01" y2="304.34" stroke="#111" stroke-width="1.1" />
<line x1="418.61" y1="316.78" x2="423.01" y2="316.78" stroke="#111" stroke-width="1.1" />
<line x1="448.88" y1="282.00" x2="448.88" y2="274.62" stroke="#0a0a0a" stroke-width="1.1" />
<line x1="446.68" y1="282.00" x2="451.08" y2="282.00" stroke="#111" stroke-width="1.1" />
<line x1="476.95" y1="256.70" x2="476.95" y2="251.96" stroke="#0a0a0a" stroke-width="1.1" />
<line x1="474.75" y1="256.70" x2="479.15" y2="256.70" stroke="#111" stroke-width="1.1" />
<line x1="448.88" y1="287.80" x2="448.88" y2="283.05" stroke="#0a0a0a" stroke-width="1.1" />
<line x1="446.68" y1="287.80" x2="451.08" y2="287.80" stroke="#111" stroke-width="1.1" />
<line x1="420.81" y1="317.31" x2="420.81" y2="295.18" stroke="#0a0a0a" stroke-width="1.1" />
<line x1="418.61" y1="295.18" x2="423.01" y2="295.18" stroke="#111" stroke-width="1.1" />
<line x1="418.61" y1="317.31" x2="423.01" y2="317.31" stroke="#111" stroke-width="1.1" />
<line x1="448.88" y1="268.30" x2="448.88" y2="255.12" stroke="#0a0a0a" stroke-width="1.1" />
<line x1="446.68" y1="255.12" x2="451.08" y2="255.12" stroke="#111" stroke-width="1.1" />
<line x1="446.68" y1="268.30" x2="451.08" y2="268.30" stroke="#111" stroke-width="1.1" />
<line x1="476.95" y1="256.18" x2="476.95" y2="239.31" stroke="#0a0a0a" stroke-width="1.1" />
<line x1="474.75" y1="239.31" x2="479.15" y2="239.31" stroke="#111" stroke-width="1.1" />
<line x1="474.75" y1="256.18" x2="479.15" y2="256.18" stroke="#111" stroke-width="1.1" />
<path d="M336.60 330.92 L340.02 334.70 L336.60 338.48 L333.18 334.70Z" fill="#5aa6e4"/>
<path d="M364.67 330.92 L368.09 334.70 L364.67 338.48 L361.25 334.70Z" fill="#5aa6e4"/>
<path d="M392.74 330.92 L396.16 334.70 L392.74 338.48 L389.32 334.70Z" fill="#5aa6e4"/>
<path d="M420.81 306.68 L424.23 310.46 L420.81 314.24 L417.39 310.46Z" fill="#5aa6e4"/>
<path d="M448.88 270.84 L452.30 274.62 L448.88 278.40 L445.46 274.62Z" fill="#5aa6e4"/>
<path d="M476.95 248.18 L480.37 251.96 L476.95 255.74 L473.53 251.96Z" fill="#5aa6e4"/>
<path d="M505.02 229.21 L508.44 232.99 L505.02 236.77 L501.60 232.99Z" fill="#5aa6e4"/>
<rect x="332.70" y="330.80" width="7.80" height="7.80" fill="#c9037c"/>
<rect x="360.77" y="330.80" width="7.80" height="7.80" fill="#c9037c"/>
<rect x="388.84" y="330.80" width="7.80" height="7.80" fill="#c9037c"/>
<rect x="416.91" y="321.74" width="7.80" height="7.80" fill="#c9037c"/>
<rect x="444.98" y="279.15" width="7.80" height="7.80" fill="#c9037c"/>
<rect x="473.05" y="244.90" width="7.80" height="7.80" fill="#c9037c"/>
<rect x="501.12" y="225.40" width="7.80" height="7.80" fill="#c9037c"/>
<path d="M336.60 331.47 L340.40 337.93 L332.80 337.93Z" fill="#b2661e"/>
<path d="M364.67 331.47 L368.47 337.93 L360.87 337.93Z" fill="#b2661e"/>
<path d="M392.74 331.47 L396.54 337.93 L388.94 337.93Z" fill="#b2661e"/>
<path d="M420.81 308.28 L424.61 314.74 L417.01 314.74Z" fill="#b2661e"/>
<path d="M448.88 258.74 L452.68 265.20 L445.08 265.20Z" fill="#b2661e"/>
<path d="M476.95 243.46 L480.75 249.92 L473.15 249.92Z" fill="#b2661e"/>
<path d="M505.02 227.12 L508.82 233.58 L501.22 233.58Z" fill="#b2661e"/>
<line x1="342.70" y1="210.60" x2="361.00" y2="210.60" stroke="#5aa6e4" stroke-width="1.3" />
<path d="M351.85 207.87 L354.32 210.60 L351.85 213.33 L349.38 210.60Z" fill="#5aa6e4"/>
<text x="364.20" y="213.30" font-size="7.6" text-anchor="start" fill="#1a1a1a" textLength="55.80" lengthAdjust="spacingAndGlyphs" stroke="#1a1a1a" stroke-width="0.22" >WT (3mos, n=3)</text>
<line x1="342.70" y1="222.50" x2="361.00" y2="222.50" stroke="#c9037c" stroke-width="1.3" />
<rect x="349.25" y="219.90" width="5.20" height="5.20" fill="#c9037c"/>
<text x="364.20" y="225.20" font-size="7.6" text-anchor="start" fill="#1a1a1a" textLength="103.00" lengthAdjust="spacingAndGlyphs" stroke="#1a1a1a" stroke-width="0.22" >Pten+/<tspan fill="#7a7a7a" stroke="none">&#916;</tspan>; Nf1LOH (3mos, n=4)</text>
<line x1="342.70" y1="234.40" x2="361.00" y2="234.40" stroke="#b2661e" stroke-width="1.3" />
<path d="M351.85 232.16 L354.84 237.24 L348.86 237.24Z" fill="#b2661e"/>
<text x="364.20" y="237.10" font-size="7.6" text-anchor="start" fill="#1a1a1a" textLength="102.40" lengthAdjust="spacingAndGlyphs" stroke="#1a1a1a" stroke-width="0.22" >Pten+/<tspan fill="#7a7a7a" stroke="none">&#916;</tspan>; Nf1LOH (2mos, n=4)</text>
<line x1="62.00" y1="391.20" x2="62.00" y2="519.70" stroke="#4a4a4a" stroke-width="2.0" />
<line x1="61.20" y1="519.10" x2="248.60" y2="519.10" stroke="#222" stroke-width="1.6" />
<line x1="58.60" y1="421.00" x2="62.00" y2="421.00" stroke="#444" stroke-width="1.1" />
<text x="55.70" y="424.00" font-size="8.4" text-anchor="end" fill="#1a1a1a" stroke="#1a1a1a" stroke-width="0.22" >10.00</text>
<line x1="58.60" y1="453.70" x2="62.00" y2="453.70" stroke="#444" stroke-width="1.1" />
<text x="55.70" y="456.70" font-size="8.4" text-anchor="end" fill="#1a1a1a" stroke="#1a1a1a" stroke-width="0.22" >1.00</text>
<line x1="58.60" y1="486.40" x2="62.00" y2="486.40" stroke="#444" stroke-width="1.1" />
<text x="55.70" y="489.40" font-size="8.4" text-anchor="end" fill="#1a1a1a" stroke="#1a1a1a" stroke-width="0.22" >0.10</text>
<line x1="58.60" y1="519.10" x2="62.00" y2="519.10" stroke="#444" stroke-width="1.1" />
<text x="55.70" y="522.10" font-size="8.4" text-anchor="end" fill="#1a1a1a" stroke="#1a1a1a" stroke-width="0.22" >0.01</text>
<text x="29.30" y="455.30" font-size="9.0" text-anchor="middle" fill="#1a1a1a" textLength="48.30" lengthAdjust="spacingAndGlyphs" transform="rotate(-90 29.30 455.30)" stroke="#1a1a1a" stroke-width="0.3">Viable cells (%)</text>
<text x="92.50" y="529.80" font-size="8.0" text-anchor="middle" fill="#1a1a1a" textLength="13.90" lengthAdjust="spacingAndGlyphs" stroke="#1a1a1a" stroke-width="0.22" >LIN-</text>
<text x="155.20" y="529.80" font-size="8.0" text-anchor="middle" fill="#1a1a1a" textLength="17.30" lengthAdjust="spacingAndGlyphs" stroke="#1a1a1a" stroke-width="0.22" >HPC</text>
<text x="217.30" y="529.80" font-size="8.0" text-anchor="middle" fill="#1a1a1a" textLength="15.50" lengthAdjust="spacingAndGlyphs" stroke="#1a1a1a" stroke-width="0.22" >LSK</text>
<rect x="75.00" y="423.70" width="8.85" height="95.40" fill="#2e4a7e"/>
<rect x="83.85" y="419.10" width="8.85" height="100.00" fill="#5a2763"/>
<rect x="92.70" y="425.70" width="8.85" height="93.40" fill="#6fa84a"/>
<rect x="101.55" y="419.10" width="8.85" height="100.00" fill="#a9002c"/>
<rect x="137.20" y="453.10" width="8.85" height="66.00" fill="#2e4a7e"/>
<rect x="146.05" y="450.20" width="8.85" height="68.90" fill="#5a2763"/>
<rect x="154.90" y="452.70" width="8.85" height="66.40" fill="#6fa84a"/>
<rect x="163.75" y="462.10" width="8.85" height="57.00" fill="#a9002c"/>
<rect x="199.80" y="487.00" width="8.85" height="32.10" fill="#2e4a7e"/>
<rect x="208.65" y="482.40" width="8.85" height="36.70" fill="#5a2763"/>
<rect x="217.50" y="482.20" width="8.85" height="36.90" fill="#6fa84a"/>
<rect x="226.35" y="479.20" width="8.85" height="39.90" fill="#a9002c"/>
<line x1="78.10" y1="423.30" x2="80.90" y2="423.30" stroke="#111" stroke-width="1.0" />
<line x1="87.00" y1="418.80" x2="89.80" y2="418.80" stroke="#111" stroke-width="1.0" />
<line x1="95.90" y1="425.30" x2="98.70" y2="425.30" stroke="#111" stroke-width="1.0" />
<line x1="104.80" y1="418.80" x2="107.60" y2="418.80" stroke="#111" stroke-width="1.0" />
<line x1="140.30" y1="451.60" x2="143.10" y2="451.60" stroke="#111" stroke-width="1.0" />
<line x1="141.70" y1="451.60" x2="141.70" y2="453.10" stroke="#111" stroke-width="1.0" />
<line x1="149.20" y1="448.50" x2="152.00" y2="448.50" stroke="#111" stroke-width="1.0" />
<line x1="150.60" y1="448.50" x2="150.60" y2="450.20" stroke="#111" stroke-width="1.0" />
<line x1="157.90" y1="449.50" x2="160.70" y2="449.50" stroke="#111" stroke-width="1.0" />
<line x1="159.30" y1="449.50" x2="159.30" y2="452.70" stroke="#111" stroke-width="1.0" />
<line x1="166.90" y1="458.30" x2="169.70" y2="458.30" stroke="#111" stroke-width="1.0" />
<line x1="168.30" y1="458.30" x2="168.30" y2="462.10" stroke="#111" stroke-width="1.0" />
<line x1="202.80" y1="485.00" x2="205.60" y2="485.00" stroke="#111" stroke-width="1.0" />
<line x1="204.20" y1="485.00" x2="204.20" y2="487.00" stroke="#111" stroke-width="1.0" />
<line x1="211.60" y1="480.70" x2="214.40" y2="480.70" stroke="#111" stroke-width="1.0" />
<line x1="213.00" y1="480.70" x2="213.00" y2="482.40" stroke="#111" stroke-width="1.0" />
<line x1="220.30" y1="480.70" x2="223.10" y2="480.70" stroke="#111" stroke-width="1.0" />
<line x1="221.70" y1="480.70" x2="221.70" y2="482.20" stroke="#111" stroke-width="1.0" />
<line x1="229.10" y1="475.50" x2="231.90" y2="475.50" stroke="#111" stroke-width="1.0" />
<line x1="230.50" y1="475.50" x2="230.50" y2="479.20" stroke="#111" stroke-width="1.0" />
<path d="M78.00 406.50 L78.00 399.80 L108.80 399.80 L108.80 406.50" fill="none" stroke="#1a1a1a" stroke-width="1.1"/>
<circle cx="92.20" cy="396.40" r="1.05" fill="#1a1a1a"/>
<path d="M96.00 416.90 L96.00 411.30 L107.90 411.30 L107.90 416.90" fill="none" stroke="#1a1a1a" stroke-width="1.1"/>
<circle cx="102.00" cy="407.90" r="1.05" fill="#1a1a1a"/>
<path d="M138.00 438.80 L138.00 433.30 L170.00 433.30 L170.00 438.80" fill="none" stroke="#1a1a1a" stroke-width="1.1"/>
<circle cx="152.00" cy="430.20" r="1.05" fill="#1a1a1a"/>
<path d="M148.90 447.40 L148.90 441.30 L170.10 441.30 L170.10 447.40" fill="none" stroke="#1a1a1a" stroke-width="1.1"/>
<circle cx="158.00" cy="438.30" r="1.05" fill="#1a1a1a"/>
<path d="M198.50 460.60 L198.50 454.30 L234.60 454.30 L234.60 460.60" fill="none" stroke="#1a1a1a" stroke-width="1.1"/>
<circle cx="217.30" cy="451.30" r="1.05" fill="#1a1a1a"/>
<path d="M211.00 469.50 L211.00 463.60 L235.00 463.60 L235.00 469.50" fill="none" stroke="#1a1a1a" stroke-width="1.1"/>
<circle cx="224.60" cy="458.70" r="1.05" fill="#1a1a1a"/>
<path d="M222.90 477.50 L222.90 472.10 L234.60 472.10 L234.60 477.50" fill="none" stroke="#1a1a1a" stroke-width="1.1"/>
<circle cx="228.00" cy="468.90" r="1.05" fill="#1a1a1a"/>
<rect x="179.7" y="391.60" width="4.2" height="4.2" fill="#2e4a7e"/>
<text x="187.50" y="396.50" font-size="8.0" text-anchor="start" fill="#1a1a1a" textLength="34.60" lengthAdjust="spacingAndGlyphs" stroke="#1a1a1a" stroke-width="0.22" >WT (n=6)</text>
<rect x="179.7" y="404.20" width="4.2" height="4.2" fill="#5a2763"/>
<text x="187.50" y="409.10" font-size="8.0" text-anchor="start" fill="#1a1a1a" textLength="83.30" lengthAdjust="spacingAndGlyphs" stroke="#1a1a1a" stroke-width="0.22" >Pten+/<tspan fill="#7a7a7a" stroke="none">&#916;</tspan>;Nf1LOH (n=8)</text>
<rect x="179.7" y="416.80" width="4.2" height="4.2" fill="#6fa84a"/>
<text x="187.50" y="421.70" font-size="8.0" text-anchor="start" fill="#1a1a1a" textLength="80.20" lengthAdjust="spacingAndGlyphs" stroke="#1a1a1a" stroke-width="0.22" >Pten<tspan fill="#7a7a7a" stroke="none">&#916;</tspan>/<tspan fill="#7a7a7a" stroke="none">&#916;</tspan>;Nf1+/<tspan fill="#7a7a7a" stroke="none">&#916;</tspan> (n=6)</text>
<rect x="179.7" y="429.40" width="4.2" height="4.2" fill="#a9002c"/>
<text x="187.50" y="434.30" font-size="8.0" text-anchor="start" fill="#1a1a1a" textLength="83.70" lengthAdjust="spacingAndGlyphs" stroke="#1a1a1a" stroke-width="0.22" >Pten<tspan fill="#7a7a7a" stroke="none">&#916;</tspan>/<tspan fill="#7a7a7a" stroke="none">&#916;</tspan>;Nf1LOH (n=4)</text>
<rect x="0.5" y="0.5" width="519" height="538" fill="none" stroke="#000" stroke-width="1.2"/>
</svg></body></html>
